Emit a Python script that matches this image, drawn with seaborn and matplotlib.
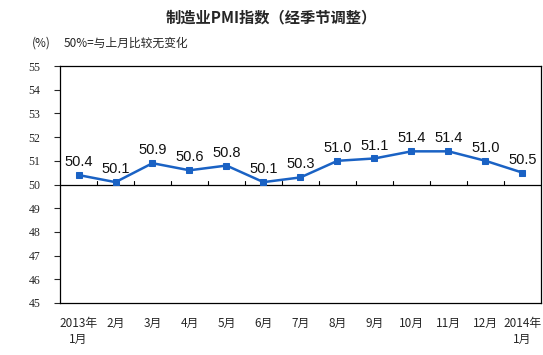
import matplotlib
matplotlib.use('Agg')
import matplotlib.pyplot as plt
import seaborn as sns
import pandas as pd

# data
months = ['2013年\n1月', '2月', '3月', '4月', '5月', '6月', '7月', '8月', '9月',
          '10月', '11月', '12月', '2014年\n1月']
pmi = [50.4, 50.1, 50.9, 50.6, 50.8, 50.1, 50.3, 51.0, 51.1, 51.4, 51.4, 51.0, 50.5]
y_ticks = [45, 46, 47, 48, 49, 50, 51, 52, 53, 54, 55]

sns.set_style('white')
plt.rcParams['font.family'] = ['Noto Sans CJK SC', 'DejaVu Sans']

df = pd.DataFrame({'month': months, 'pmi': pmi, 'pos': range(len(months))})

fig = plt.figure(figsize=(5.43, 3.55), dpi=100)
ax = fig.add_axes([0.1105, 0.1465, 0.8858, 0.6675])

line_color = '#1a62c4'
sns.lineplot(data=df, x='pos', y='pmi', ax=ax, color=line_color, linewidth=1.8,
             marker='s', markersize=5, markeredgecolor=line_color)

# 50 reference line with small ticks between months
ax.axhline(50, color='black', linewidth=0.9, zorder=1)
for i in range(len(months) - 1):
    ax.plot([i + 0.5, i + 0.5], [50, 50.15], color='black', linewidth=0.8)

# value labels
for i, v in enumerate(pmi):
    ax.text(i, v + 0.25, f'{v:.1f}', ha='center', va='bottom', fontsize=10.5,
            family='Liberation Sans', color='#111111')

ax.set_xlim(-0.5, len(months) - 0.5)
ax.set_ylim(45, 55)
ax.set_yticks(y_ticks)
ax.set_yticklabels([str(t) for t in y_ticks], fontsize=8.5, family='Liberation Serif')
ax.set_xticks(range(len(months)))
ax.set_xticklabels(months, fontsize=8.5, linespacing=1.3)
ax.tick_params(axis='x', length=0, pad=10)
ax.tick_params(axis='y', length=4, width=0.8, direction='out', left=True, pad=10)
ax.set_xlabel('')
ax.set_ylabel('')
for s in ax.spines.values():
    s.set_color('black')
    s.set_linewidth(0.9)

fig.text(0.5, 0.95, '制造业PMI指数（经季节调整）', ha='center', va='center',
         fontsize=11, fontweight='bold')
fig.text(0.058, 0.878, '(%)', ha='left', va='center', fontsize=8.5)
fig.text(0.118, 0.878, '50%=与上月比较无变化', ha='left', va='center', fontsize=8.5)

fig.savefig('out.png', dpi=100)
